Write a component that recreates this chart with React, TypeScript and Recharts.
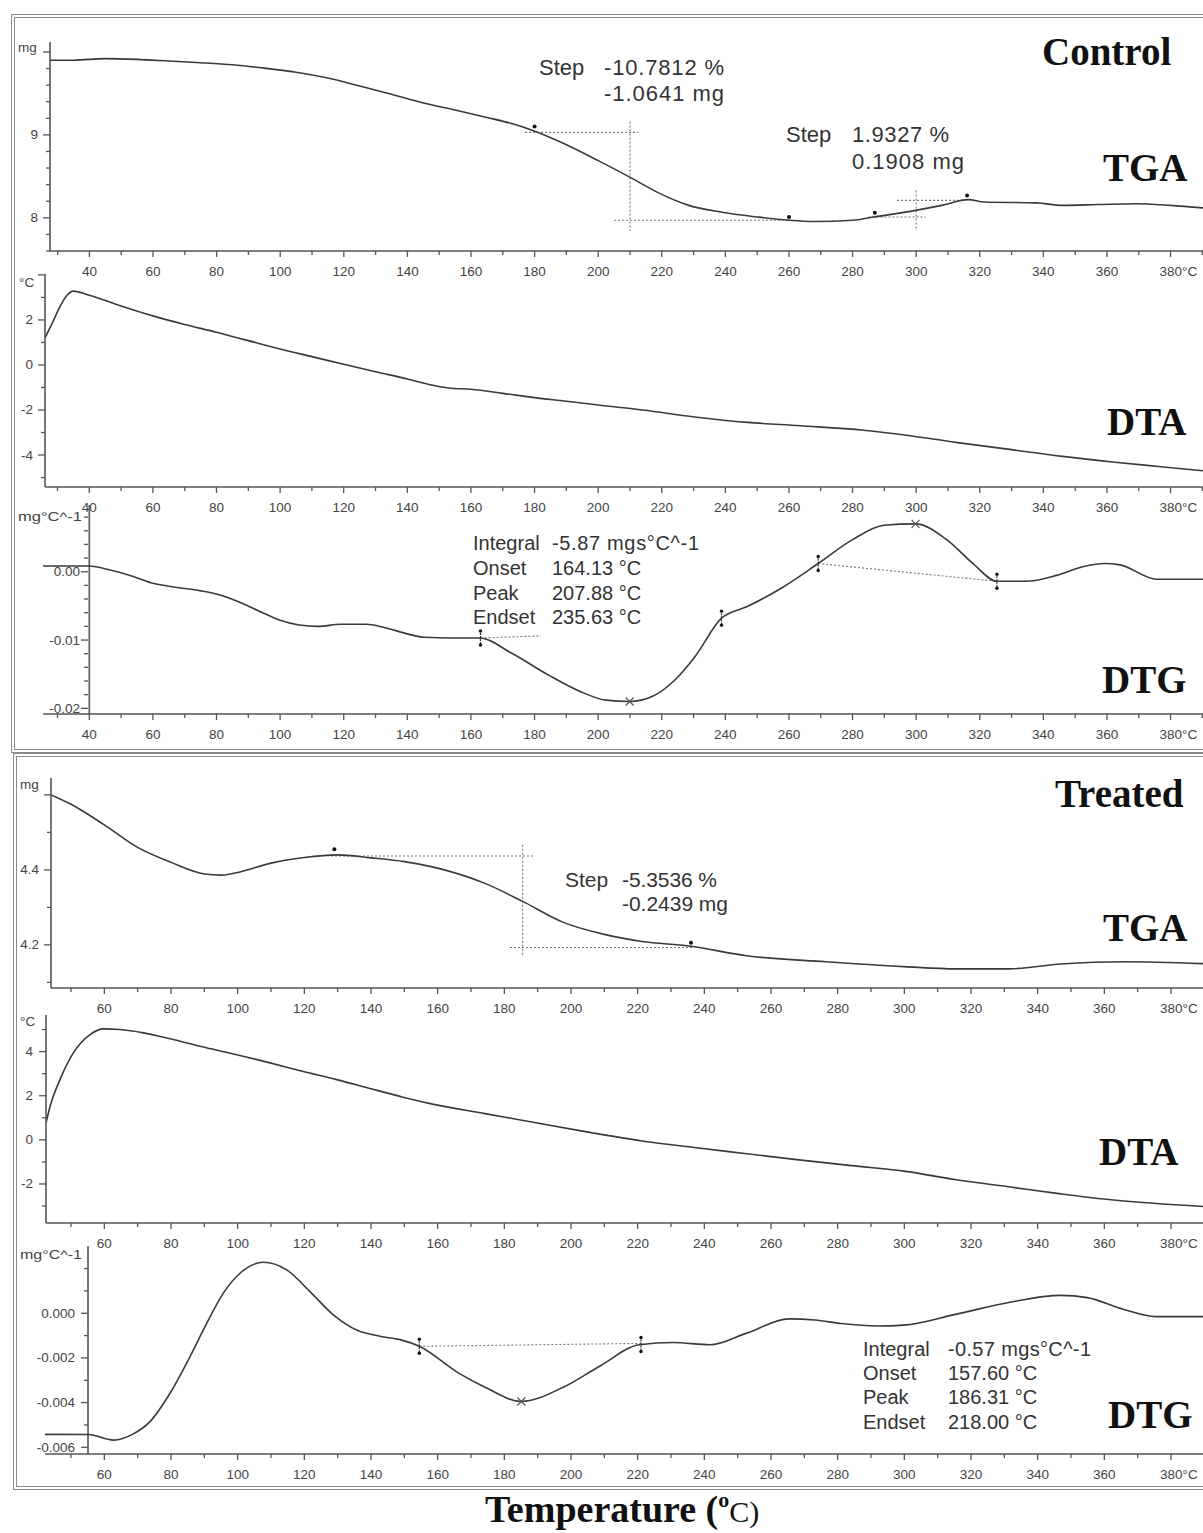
import React from "react";
import { LineChart, Line, XAxis, YAxis, ReferenceLine, ReferenceDot } from "recharts";

// ---- temperature axes ----
const ctrlXTicks = [30, 40, 50, 60, 70, 80, 90, 100, 110, 120, 130, 140, 150, 160, 170, 180, 190, 200, 210, 220, 230, 240, 250, 260, 270, 280, 290, 300, 310, 320, 330, 340, 350, 360, 370, 380, 390];
const ctrlXLabels = [40, 60, 80, 100, 120, 140, 160, 180, 200, 220, 240, 260, 280, 300, 320, 340, 360, 380];
const trtXTicks = [50, 60, 70, 80, 90, 100, 110, 120, 130, 140, 150, 160, 170, 180, 190, 200, 210, 220, 230, 240, 250, 260, 270, 280, 290, 300, 310, 320, 330, 340, 350, 360, 370, 380];
const trtXLabels = [60, 80, 100, 120, 140, 160, 180, 200, 220, 240, 260, 280, 300, 320, 340, 360, 380];

// ---- control: TGA (mg) ----
const ctrlTgaT = [27.6, 35, 45, 55, 65, 75, 85, 95, 105, 115, 125, 135, 145, 155, 165, 172.5, 179, 189, 200, 209.5, 218.5, 228.5, 238.5, 250, 260, 268.3, 280, 286.6, 299.8, 308, 316.4, 321.3, 337.8, 346, 357, 369, 380, 390.2];
const ctrlTgaMg = [9.9, 9.9, 9.92, 9.91, 9.89, 9.87, 9.845, 9.805, 9.755, 9.685, 9.59, 9.49, 9.385, 9.3, 9.21, 9.14, 9.06, 8.9, 8.69, 8.5, 8.31, 8.15, 8.07, 8.01, 7.97, 7.955, 7.97, 8.01, 8.09, 8.15, 8.22, 8.19, 8.18, 8.15, 8.16, 8.17, 8.15, 8.12];
const ctrlTgaTicks = [7.6, 7.8, 8, 8.2, 8.4, 8.6, 8.8, 9, 9.2, 9.4, 9.6, 9.8, 10];
const ctrlTgaMajor = [8, 9, 10];
const ctrlTgaLabels = ["8", "9", ""];

// ---- control: DTA (°C) ----
const ctrlDtaT = [26, 28.5, 30.8, 33, 35, 40, 50, 60, 70, 80, 90, 100, 110, 120, 130, 140, 148, 153, 160, 170, 180, 190, 200, 214, 231, 247, 263.5, 283.5, 297, 313, 330, 346, 362.5, 377, 390.2];
const ctrlDtaC = [1.18, 1.9, 2.6, 3.1, 3.28, 3.1, 2.62, 2.18, 1.8, 1.45, 1.08, 0.71, 0.37, 0.03, -0.3, -0.62, -0.9, -1.02, -1.08, -1.26, -1.45, -1.61, -1.78, -2.0, -2.32, -2.55, -2.7, -2.9, -3.12, -3.45, -3.76, -4.06, -4.32, -4.52, -4.7];
const ctrlDtaTicks = [-5, -4, -3, -2, -1, 0, 1, 2, 3, 4];
const ctrlDtaMajor = [-4, -2, 0, 2, 4];
const ctrlDtaLabels = ["-4", "-2", "0", "2", ""];

// ---- control: DTG (mg/°C) ----
const ctrlDtgT = [25.4, 40, 46.5, 53.8, 60, 67.5, 75, 81, 87.5, 94, 100, 106, 112, 119, 127, 133, 140, 145.4, 154, 162.8, 172.7, 184.3, 194.2, 202.4, 209.9, 217.3, 223.8, 230.5, 238.8, 246.9, 256.9, 269.2, 280, 289.9, 299.8, 309.6, 317.9, 325.4, 334.5, 344.4, 353, 359.2, 364.1, 375.7, 390.2];
const ctrlDtgV = [0.00083, 0.00083, 0.00025, -0.0007, -0.0017, -0.0023, -0.0028, -0.0034, -0.0045, -0.0059, -0.0071, -0.0078, -0.008, -0.0077, -0.0077, -0.0082, -0.0091, -0.0096, -0.0097, -0.0097, -0.0119, -0.0151, -0.0175, -0.0188, -0.019, -0.0182, -0.016, -0.0124, -0.0068, -0.0051, -0.0026, 0.0012, 0.0047, 0.0068, 0.007, 0.0047, 0.0012, -0.0014, -0.0014, -0.0005, 0.0008, 0.0012, 0.001, -0.0011, -0.0011];
const ctrlDtgTicks = [-0.02, -0.018, -0.016, -0.014, -0.012, -0.01, -0.008, -0.006, -0.004, -0.002, 0, 0.002, 0.004, 0.006, 0.008];
const ctrlDtgMajor = [-0.02, -0.01, 0];
const ctrlDtgLabels = ["-0.02", "-0.01", "0.00"];

// ---- treated: TGA (mg) ----
const trtTgaT = [44, 50, 60, 70, 80, 90, 95, 100, 110, 120, 130, 140, 150, 158.4, 174.2, 185.5, 197.7, 210, 221.3, 235.4, 252.7, 276.3, 300, 315.5, 331.3, 347, 366, 389.6];
const trtTgaMg = [4.6, 4.575, 4.52, 4.46, 4.42, 4.389, 4.386, 4.393, 4.418, 4.433, 4.44, 4.432, 4.422, 4.408, 4.364, 4.316, 4.26, 4.228, 4.209, 4.197, 4.171, 4.155, 4.142, 4.136, 4.136, 4.149, 4.155, 4.15];
const trtTgaTicks = [4.1, 4.2, 4.3, 4.4, 4.5, 4.6];
const trtTgaMajor = [4.2, 4.4, 4.6];
const trtTgaLabels = ["4.2", "4.4", ""];

// ---- treated: DTA (°C) ----
const trtDtaT = [42.5, 43.7, 46.7, 50.7, 55.7, 59.7, 64.7, 71.7, 79.7, 88.7, 99.7, 109.7, 119.7, 129.7, 139.7, 148.7, 152.1, 158.4, 174.2, 189.9, 205.6, 221.3, 237, 252.7, 268.4, 284.1, 299.9, 315.6, 331.3, 347, 362.7, 389.6];
const trtDtaC = [0.76, 1.5, 2.73, 3.94, 4.77, 5.03, 5.0, 4.85, 4.58, 4.24, 3.86, 3.49, 3.1, 2.73, 2.33, 1.97, 1.84, 1.62, 1.19, 0.76, 0.34, -0.05, -0.35, -0.63, -0.91, -1.17, -1.42, -1.81, -2.13, -2.45, -2.73, -3.02];
const trtDtaTicks = [-3, -2, -1, 0, 1, 2, 3, 4, 5];
const trtDtaMajor = [-2, 0, 2, 4];
const trtDtaLabels = ["-2", "0", "2", "4"];

// ---- treated: DTG (mg/°C) ----
const trtDtgT = [42.2, 55.2, 62.7, 68.7, 73.7, 79.7, 85.7, 90.7, 95.7, 100.7, 107.7, 114.7, 121.7, 128.7, 135.7, 142.7, 148.7, 154.5, 166.3, 174.2, 185.1, 197.7, 208.7, 220.5, 230.7, 241.7, 252.7, 265.3, 273.2, 281, 292, 299.9, 315.6, 331.3, 347, 354.9, 365.9, 375.3, 389.6];
const trtDtgV = [-0.00542, -0.00543, -0.00568, -0.0054, -0.00485, -0.00358, -0.00194, -0.00045, 0.0009, 0.00179, 0.00228, 0.00194, 0.00097, -0.00007, -0.00075, -0.00103, -0.00118, -0.00148, -0.00268, -0.00331, -0.00395, -0.00331, -0.00236, -0.00141, -0.00131, -0.00141, -0.00089, -0.00025, -0.0003, -0.00046, -0.00057, -0.00053, -0.00004, 0.00048, 0.0008, 0.0007, 0.00017, -0.00015, -0.00015];
const trtDtgTicks = [-0.006, -0.005, -0.004, -0.003, -0.002, -0.001, 0, 0.001, 0.002];
const trtDtgMajor = [-0.006, -0.004, -0.002, 0];
const trtDtgLabels = ["-0.006", "-0.004", "-0.002", "0.000"];

const W = 1203;
const AXIS = "#555";
const INK = "#3a3a3a";
const TICK_TXT = "#444";
const SANS = "'Liberation Sans', Arial, Helvetica, sans-serif";
const SERIF = "'Liberation Serif', 'Times New Roman', serif";
const PAD_TOP = 8;
const PAD_BOTTOM = 34;

const near = (a: number, b: number) => Math.abs(a - b) < 1e-9;

function makeXTick(axisY: number, labeled: number[]) {
  return (p: any) => {
    const v = p.payload.value;
    const x = p.x;
    const major = labeled.some((l) => near(l, v));
    const last = v === 380;
    return (
      <g>
        <line x1={x} x2={x} y1={axisY} y2={axisY + (major ? 6 : 4)} stroke={AXIS} strokeWidth={1.3} />
        {major && (
          <text
            x={last ? x - 11 : x}
            y={axisY + 25}
            textAnchor={last ? "start" : "middle"}
            fontSize={13.5}
            fontFamily={SANS}
            fill={TICK_TXT}
          >
            {last ? "380°C" : v}
          </text>
        )}
      </g>
    );
  };
}

function makeYTick(ax: number, major: number[], labels: string[], gap: number) {
  return (p: any) => {
    const v = p.payload.value;
    const y = p.y;
    const i = major.findIndex((m) => near(m, v));
    const isMajor = i >= 0;
    return (
      <g>
        <line x1={ax - (isMajor ? 7 : 4)} x2={ax} y1={y} y2={y} stroke={AXIS} strokeWidth={1.3} />
        {isMajor && labels[i] && (
          <text x={ax - gap} y={y + 4.5} textAnchor="end" fontSize={13.5} fontFamily={SANS} fill={TICK_TXT}>
            {labels[i]}
          </text>
        )}
      </g>
    );
  };
}

const Cross = (p: any) => (
  <path
    d={`M${p.cx - 4},${p.cy - 4}L${p.cx + 4},${p.cy + 4}M${p.cx - 4},${p.cy + 4}L${p.cx + 4},${p.cy - 4}`}
    stroke="#555"
    strokeWidth={1.2}
    fill="none"
  />
);

const Marker = (p: any) => (
  <g>
    <line x1={p.cx} x2={p.cx} y1={p.cy - 8} y2={p.cy + 8} stroke="#333" strokeWidth={1.2} strokeDasharray="2 1" />
    <circle cx={p.cx} cy={p.cy - 7} r={1.7} fill="#111" />
    <circle cx={p.cx} cy={p.cy + 7} r={1.7} fill="#111" />
  </g>
);

const dotted = { stroke: "#777", strokeWidth: 1.1, strokeDasharray: "2 2" };

type PanelProps = {
  top: number;
  bottom: number;
  left: number;
  axisX: number;
  axisT?: number;
  xDomain: [number, number];
  yDomain: [number, number];
  xTicks: number[];
  xLabels: number[];
  yTicks: number[];
  yMajor: number[];
  yLabels: string[];
  gap: number;
  t: number[];
  v: number[];
  extras?: React.ReactNode[];
};

function Panel(p: PanelProps) {
  const data = p.t.map((t, i) => ({ t, v: p.v[i] }));
  const plotH = p.bottom - p.top;
  const h = plotH + PAD_TOP + PAD_BOTTOM;
  return (
    <div style={{ position: "absolute", left: 0, top: p.top - PAD_TOP }}>
      <LineChart width={W} height={h} data={data} margin={{ top: PAD_TOP, right: 0, bottom: 0, left: 0 }}>
        <XAxis
          type="number"
          dataKey="t"
          domain={p.xDomain}
          allowDataOverflow
          ticks={p.xTicks}
          interval={0}
          height={PAD_BOTTOM}
          axisLine={{ stroke: AXIS, strokeWidth: 1.6 }}
          tickLine={false}
          tick={makeXTick(PAD_TOP + plotH, p.xLabels)}
        />
        <YAxis
          type="number"
          domain={p.yDomain}
          allowDataOverflow
          ticks={p.yTicks}
          interval={0}
          width={p.left}
          axisLine={p.axisT === undefined ? { stroke: AXIS, strokeWidth: 1.6 } : false}
          tickLine={false}
          tick={makeYTick(p.axisX, p.yMajor, p.yLabels, p.gap)}
        />
        {p.axisT !== undefined && <ReferenceLine x={p.axisT} stroke={AXIS} strokeWidth={1.6} />}
        {p.extras}
        <Line type="monotone" dataKey="v" stroke={INK} strokeWidth={1.6} dot={false} isAnimationActive={false} />
      </LineChart>
    </div>
  );
}

export default function App() {
  const ctrlTgaExtras = [
    <ReferenceLine key="a" segment={[{ x: 177, y: 9.03 }, { x: 212.5, y: 9.03 }]} {...dotted} />,
    <ReferenceLine key="b" segment={[{ x: 210, y: 9.16 }, { x: 210, y: 7.84 }]} {...dotted} />,
    <ReferenceLine key="c" segment={[{ x: 205, y: 7.97 }, { x: 260, y: 7.97 }]} {...dotted} />,
    <ReferenceLine key="d" segment={[{ x: 300, y: 8.33 }, { x: 300, y: 7.84 }]} {...dotted} />,
    <ReferenceLine key="e" segment={[{ x: 294, y: 8.21 }, { x: 315, y: 8.21 }]} {...dotted} />,
    <ReferenceLine key="f" segment={[{ x: 285, y: 8.01 }, { x: 303, y: 8.01 }]} {...dotted} />,
    <ReferenceDot key="g" x={180} y={9.1} r={2} fill="#111" stroke="none" />,
    <ReferenceDot key="h" x={260} y={8.01} r={2} fill="#111" stroke="none" />,
    <ReferenceDot key="i" x={287} y={8.06} r={2} fill="#111" stroke="none" />,
    <ReferenceDot key="j" x={316} y={8.27} r={2} fill="#111" stroke="none" />,
  ];
  const ctrlDtgExtras = [
    <ReferenceLine key="a" segment={[{ x: 163, y: -0.0097 }, { x: 182, y: -0.0094 }]} {...dotted} />,
    <ReferenceLine key="b" segment={[{ x: 269.2, y: 0.0012 }, { x: 325.4, y: -0.0014 }]} {...dotted} />,
    <ReferenceDot key="c" x={209.9} y={-0.019} r={4} shape={Cross} />,
    <ReferenceDot key="d" x={299.8} y={0.007} r={4} shape={Cross} />,
    <ReferenceDot key="e" x={163} y={-0.0097} r={4} shape={Marker} />,
    <ReferenceDot key="f" x={238.8} y={-0.0068} r={4} shape={Marker} />,
    <ReferenceDot key="g" x={269.2} y={0.0012} r={4} shape={Marker} />,
    <ReferenceDot key="h" x={325.4} y={-0.0014} r={4} shape={Marker} />,
  ];
  const trtTgaExtras = [
    <ReferenceLine key="a" segment={[{ x: 128, y: 4.437 }, { x: 189, y: 4.437 }]} {...dotted} />,
    <ReferenceLine key="b" segment={[{ x: 185.5, y: 4.467 }, { x: 185.5, y: 4.168 }]} {...dotted} />,
    <ReferenceLine key="c" segment={[{ x: 181.7, y: 4.193 }, { x: 237, y: 4.193 }]} {...dotted} />,
    <ReferenceDot key="d" x={129} y={4.455} r={2} fill="#111" stroke="none" />,
    <ReferenceDot key="e" x={236} y={4.206} r={2} fill="#111" stroke="none" />,
  ];
  const trtDtgExtras = [
    <ReferenceLine key="a" segment={[{ x: 154.5, y: -0.00148 }, { x: 221, y: -0.00135 }]} {...dotted} />,
    <ReferenceDot key="b" x={185.1} y={-0.00395} r={4} shape={Cross} />,
    <ReferenceDot key="c" x={154.5} y={-0.00148} r={4} shape={Marker} />,
    <ReferenceDot key="d" x={221} y={-0.0014} r={4} shape={Marker} />,
  ];

  const big = { fontFamily: SERIF, fontWeight: 700, fontSize: 39, fill: "#111" } as const;
  const note = { fontFamily: SANS, fill: "#333" } as const;
  const unit = { fontFamily: SANS, fontSize: 13.5, fill: TICK_TXT } as const;

  return (
    <div style={{ position: "absolute", left: 0, top: 0, width: W, height: 1533, background: "#fff", overflow: "hidden" }}>
      <div style={{ position: "absolute", left: 11, top: 14, width: W - 11, height: 731, borderLeft: "4px double #8a8a8a", borderTop: "4px double #8a8a8a", borderBottom: "4px double #8a8a8a" }} />
      <div style={{ position: "absolute", left: 13, top: 753, width: W - 13, height: 729, borderLeft: "4px double #8a8a8a", borderTop: "4px double #8a8a8a", borderBottom: "4px double #8a8a8a" }} />

      <Panel top={42} bottom={251} left={50} axisX={50} xDomain={[27.6, 390.2]} yDomain={[7.6, 10.12]} xTicks={ctrlXTicks} xLabels={ctrlXLabels} yTicks={ctrlTgaTicks} yMajor={ctrlTgaMajor} yLabels={ctrlTgaLabels} gap={12} t={ctrlTgaT} v={ctrlTgaMg} extras={ctrlTgaExtras} />
      <Panel top={274} bottom={487} left={45} axisX={45} xDomain={[26.07, 390.2]} yDomain={[-5.42, 4.04]} xTicks={ctrlXTicks} xLabels={ctrlXLabels} yTicks={ctrlDtaTicks} yMajor={ctrlDtaMajor} yLabels={ctrlDtaLabels} gap={12} t={ctrlDtaT} v={ctrlDtaC} />
      <Panel top={505} bottom={714} left={43} axisX={88} axisT={40} xDomain={[25.44, 390.2]} yDomain={[-0.02083, 0.00977]} xTicks={ctrlXTicks} xLabels={ctrlXLabels} yTicks={ctrlDtgTicks} yMajor={ctrlDtgMajor} yLabels={ctrlDtgLabels} gap={8} t={ctrlDtgT} v={ctrlDtgV} extras={ctrlDtgExtras} />

      <Panel top={778} bottom={988} left={51} axisX={51} xDomain={[44.0, 389.6]} yDomain={[4.085, 4.645]} xTicks={trtXTicks} xLabels={trtXLabels} yTicks={trtTgaTicks} yMajor={trtTgaMajor} yLabels={trtTgaLabels} gap={12} t={trtTgaT} v={trtTgaMg} extras={trtTgaExtras} />
      <Panel top={1015} bottom={1223} left={46} axisX={46} xDomain={[42.5, 389.6]} yDomain={[-3.77, 5.66]} xTicks={trtXTicks} xLabels={trtXLabels} yTicks={trtDtaTicks} yMajor={trtDtaMajor} yLabels={trtDtaLabels} gap={13} t={trtDtaT} v={trtDtaC} />
      <Panel top={1246} bottom={1454} left={45} axisX={88} axisT={55.1} xDomain={[42.2, 389.6]} yDomain={[-0.0063, 0.00301]} xTicks={trtXTicks} xLabels={trtXLabels} yTicks={trtDtgTicks} yMajor={trtDtgMajor} yLabels={trtDtgLabels} gap={13} t={trtDtgT} v={trtDtgV} extras={trtDtgExtras} />

      <svg width={W} height={1533} style={{ position: "absolute", left: 0, top: 0, pointerEvents: "none" }}>
        {/* axis units */}
        <text x={18} y={52} {...unit}>mg</text>
        <text x={19} y={287} {...unit}>°C</text>
        <text x={18} y={521} {...unit} textLength={64} lengthAdjust="spacingAndGlyphs">mg°C^-1</text>
        <text x={20} y={789} {...unit}>mg</text>
        <text x={20} y={1026} {...unit}>°C</text>
        <text x={20} y={1259} {...unit} textLength={62} lengthAdjust="spacingAndGlyphs">mg°C^-1</text>

        {/* control TGA steps */}
        <text x={539} y={75} {...note} fontSize={22}>Step</text>
        <text x={604} y={75} {...note} fontSize={22} textLength={120}>-10.7812 %</text>
        <text x={604} y={101} {...note} fontSize={22} textLength={120}>-1.0641 mg</text>
        <text x={786} y={142} {...note} fontSize={22}>Step</text>
        <text x={852} y={142} {...note} fontSize={22} textLength={97}>1.9327 %</text>
        <text x={852} y={169} {...note} fontSize={22} textLength={112}>0.1908 mg</text>

        {/* control DTG peak */}
        <text x={473} y={550} {...note} fontSize={20}>Integral</text>
        <text x={552} y={550} {...note} fontSize={20} textLength={147}>-5.87 mgs°C^-1</text>
        <text x={473} y={575} {...note} fontSize={20}>Onset</text>
        <text x={552} y={575} {...note} fontSize={20}>164.13 °C</text>
        <text x={473} y={600} {...note} fontSize={20}>Peak</text>
        <text x={552} y={600} {...note} fontSize={20}>207.88 °C</text>
        <text x={473} y={624} {...note} fontSize={20}>Endset</text>
        <text x={552} y={624} {...note} fontSize={20}>235.63 °C</text>

        {/* treated TGA step */}
        <text x={565} y={887} {...note} fontSize={21}>Step</text>
        <text x={622} y={887} {...note} fontSize={21} textLength={95}>-5.3536 %</text>
        <text x={622} y={911} {...note} fontSize={21} textLength={106}>-0.2439 mg</text>

        {/* treated DTG peak */}
        <text x={863} y={1356} {...note} fontSize={20}>Integral</text>
        <text x={948} y={1356} {...note} fontSize={20} textLength={143}>-0.57 mgs°C^-1</text>
        <text x={863} y={1380} {...note} fontSize={20}>Onset</text>
        <text x={948} y={1380} {...note} fontSize={20}>157.60 °C</text>
        <text x={863} y={1404} {...note} fontSize={20}>Peak</text>
        <text x={948} y={1404} {...note} fontSize={20}>186.31 °C</text>
        <text x={863} y={1429} {...note} fontSize={20}>Endset</text>
        <text x={948} y={1429} {...note} fontSize={20}>218.00 °C</text>

        {/* panel titles */}
        <text x={1042} y={65} {...big}>Control</text>
        <text x={1103} y={181} {...big}>TGA</text>
        <text x={1107} y={435} {...big}>DTA</text>
        <text x={1102} y={693} {...big}>DTG</text>
        <text x={1055} y={807} {...big}>Treated</text>
        <text x={1103} y={941} {...big}>TGA</text>
        <text x={1099} y={1165} {...big}>DTA</text>
        <text x={1108} y={1428} {...big}>DTG</text>

        <text x={485} y={1522} {...big} fontSize={38}>
          Temperature (<tspan fontSize={22} dy={-15}>o</tspan>
          <tspan fontSize={30} dy={15} fontWeight={400}>C)</tspan>
        </text>
      </svg>
    </div>
  );
}
